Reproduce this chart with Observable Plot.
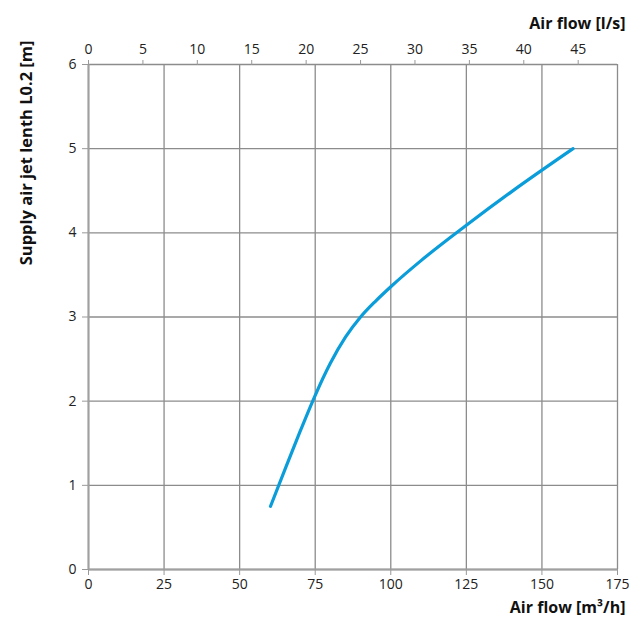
<!DOCTYPE html>
<html>
<head>
<meta charset="utf-8">
<script src="https://cdn.jsdelivr.net/npm/d3@7"></script>
<script src="https://cdn.jsdelivr.net/npm/@observablehq/plot@0.6"></script>
<style>
  html, body { margin: 0; padding: 0; background: #fff; }
  svg { display: block; }
</style>
</head>
<body>
<div id="chart"></div>
<script>
// Air flow (m³/h) vs supply air jet length L0.2 (m)
const airFlowM3h = [60.2, 65, 70, 75, 80, 85, 90, 95, 100, 110, 125, 140, 160.3];
const jetLength  = [0.75, 1.19, 1.64, 2.07, 2.45, 2.76, 3.0, 3.19, 3.36, 3.67, 4.09, 4.49, 5.0];
const bottomTicks = [0, 25, 50, 75, 100, 125, 150, 175];
const topTicksLps = [0, 5, 10, 15, 20, 25, 30, 35, 40, 45];
const yTicks = [0, 1, 2, 3, 4, 5, 6];
const M3H_PER_LPS = 3.6;

const data = airFlowM3h.map((x, i) => ({x, y: jetLength[i]}));
const font = "'Open Sans', sans-serif";

const chart = Plot.plot({
  width: 629,
  height: 623,
  marginLeft: 88,
  marginRight: 12,
  marginTop: 64,
  marginBottom: 54,
  style: {fontFamily: font, fontSize: "14px", color: "#222", background: "#fff"},
  x: {domain: [0, 175]},
  y: {domain: [0, 6]},
  marks: [
    Plot.gridX(bottomTicks, {stroke: "#8c8c8c", strokeOpacity: 1, strokeWidth: 1.3}),
    Plot.gridY(yTicks, {stroke: "#8c8c8c", strokeOpacity: 1, strokeWidth: 1.3}),
    Plot.ruleX([0], {stroke: "#a0a0a0", strokeWidth: 2}),
    Plot.ruleY([0], {stroke: "#a0a0a0", strokeWidth: 2}),
    Plot.axisX({anchor: "bottom", ticks: bottomTicks, tickSize: 6, tickPadding: 4, label: null, stroke: "#999", fontSize: 14}),
    Plot.axisX({anchor: "top", ticks: topTicksLps.map(v => v * M3H_PER_LPS), tickFormat: d => Math.round(d / M3H_PER_LPS), tickSize: 5, tickPadding: 6, label: null, stroke: "#999", fontSize: 14}),
    Plot.axisY({anchor: "left", ticks: yTicks, tickFormat: d => String(d), tickSize: 6, tickPadding: 6, label: null, stroke: "#999", fontSize: 14}),
    Plot.line(data, {x: "x", y: "y", stroke: "#0a9dd9", strokeWidth: 3.2, curve: "monotone-x", strokeLinecap: "round"}),
    Plot.text(["Air flow [m³/h]"], {frameAnchor: "bottom-right", dx: 8, dy: 43, textAnchor: "end", fontWeight: "bold", fontSize: 16, fill: "#111"}),
    Plot.text(["Air flow [l/s]"], {frameAnchor: "top-right", dx: 8, dy: -47, textAnchor: "end", fontWeight: "bold", fontSize: 16, fill: "#111"}),
    Plot.text(["Supply air jet lenth L0.2 [m]"], {frameAnchor: "top-left", dx: -68, dy: -24, rotate: -90, textAnchor: "end", fontWeight: "bold", fontSize: 16.5, fill: "#111"})
  ]
});
document.getElementById("chart").appendChild(chart);
</script>
</body>
</html>
